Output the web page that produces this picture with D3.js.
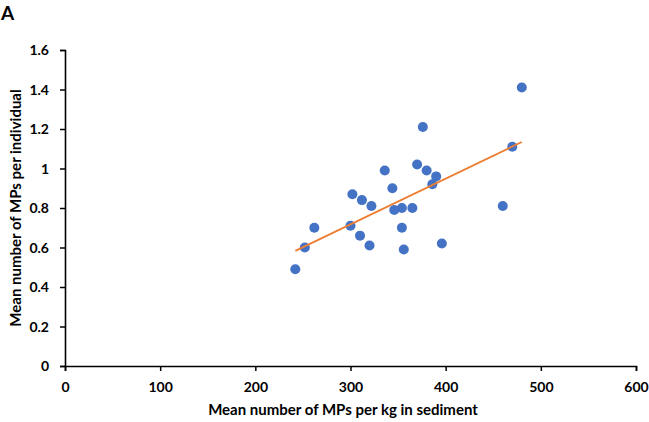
<!DOCTYPE html>
<html><head><meta charset="utf-8">
<script src="https://cdn.jsdelivr.net/npm/d3@7"></script>
<style>body{margin:0;background:#fff}svg{display:block}text{font-family:Lato,"Open Sans",sans-serif;font-weight:bold}</style>
</head><body>
<svg id="c" width="649" height="422"></svg>
<script>
const xVals = [242,252,262,300,302,310,312,320,322,336,344,346,354,354,356,365,370,376,380,386,390,396,460,470,480];
const yVals = [0.49,0.60,0.70,0.71,0.87,0.66,0.84,0.61,0.81,0.99,0.90,0.79,0.80,0.70,0.59,0.80,1.02,1.21,0.99,0.92,0.96,0.62,0.81,1.11,1.41];
const xTicks = [0,100,200,300,400,500,600];
const yTicks = [0,0.2,0.4,0.6,0.8,1,1.2,1.4,1.6];
const xTitle = "Mean number of MPs per kg in sediment";
const yTitle = "Mean number of MPs per individual";
const panel = "A";

const svg = d3.select("#c");
const x = d3.scaleLinear().domain([0,600]).range([65,636]);
const y = d3.scaleLinear().domain([0,1.6]).range([366,50]);

svg.append("text").attr("x",1).attr("y",20).attr("font-size",19).text(panel);

const xa = svg.append("g").attr("transform","translate(0,366)")
  .call(d3.axisBottom(x).tickValues(xTicks).tickSize(5).tickFormat(d3.format("d")));
const ya = svg.append("g").attr("transform","translate(65,0)")
  .call(d3.axisLeft(y).tickValues(yTicks).tickSize(5).tickFormat(d=>String(d)));
[xa,ya].forEach(a=>{
  a.select(".domain").attr("stroke","#000").attr("stroke-width",1.6);
  a.selectAll(".tick line").attr("stroke","#000").attr("stroke-width",1.5);
  a.selectAll(".tick text").attr("font-size",14).attr("fill","#000").style("font-family","Lato").style("font-weight","bold");
});
xa.selectAll(".tick text").attr("y",26).attr("dy",0);
ya.selectAll(".tick text").attr("x",-16).attr("dy","0.35em");

svg.append("text").attr("x",343).attr("y",415).attr("text-anchor","middle").attr("font-size",15).text(xTitle);
svg.append("text").attr("transform","translate(21,208) rotate(-90)").attr("text-anchor","middle").attr("font-size",15).text(yTitle);

const n = xVals.length;
const mx = d3.mean(xVals), my = d3.mean(yVals);
let sxy=0, sxx=0;
for(let i=0;i<n;i++){sxy+=(xVals[i]-mx)*(yVals[i]-my);sxx+=(xVals[i]-mx)**2;}
const b = sxy/sxx, a0 = my-b*mx;
const x0 = d3.min(xVals), x1 = d3.max(xVals);

svg.append("g").selectAll("circle").data(xVals).join("circle")
  .attr("cx",d=>x(d)).attr("cy",(d,i)=>y(yVals[i])).attr("r",5).attr("fill","#4472C4");

svg.append("line").attr("x1",x(x0)).attr("y1",y(a0+b*x0)).attr("x2",x(x1)).attr("y2",y(a0+b*x1))
  .attr("stroke","#ED7D31").attr("stroke-width",1.8);
</script>
</body></html>
